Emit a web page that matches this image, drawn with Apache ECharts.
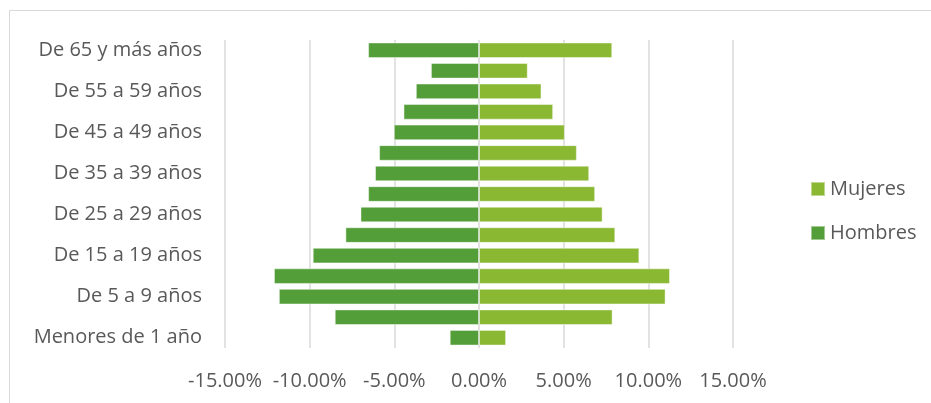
<!DOCTYPE html>
<html>
<head>
<meta charset="utf-8">
<script src="https://cdn.jsdelivr.net/npm/echarts@6/dist/echarts.min.js"></script>
<style>
  html, body { margin: 0; padding: 0; background: #fff; }
  #chart { width: 931px; height: 403px; }
</style>
</head>
<body>
<div id="chart"></div>
<script>
// grupos de edad, de abajo hacia arriba
const categories = [
  'Menores de 1 año', 'De 1 a 4 años', 'De 5 a 9 años', 'De 10 a 14 años',
  'De 15 a 19 años', 'De 20 a 24 años', 'De 25 a 29 años', 'De 30 a 34 años',
  'De 35 a 39 años', 'De 40 a 44 años', 'De 45 a 49 años', 'De 50 a 54 años',
  'De 55 a 59 años', 'De 60 a 64 años', 'De 65 y más años'
];
// porcentajes (hombres en negativo)
const hombres = [-1.73, -8.52, -11.82, -12.11, -9.82, -7.89, -7.0, -6.55,
  -6.14, -5.9, -5.03, -4.46, -3.73, -2.84, -6.55];
const mujeres = [1.6, 7.89, 11.02, 11.28, 9.47, 8.05, 7.3, 6.86,
  6.51, 5.78, 5.07, 4.38, 3.69, 2.88, 7.87];
const xTicks = { min: -15, max: 15, step: 5 };

const chartColor = { hombres: '#549E39', mujeres: '#8AB833' };
const textColor = '#595959';
const fontFamily = '"Open Sans", "Noto Sans", sans-serif';

const chart = echarts.init(document.getElementById('chart'), null, { renderer: 'canvas' });

chart.setOption({
  animation: false,
  textStyle: { fontFamily: fontFamily },
  graphic: [{
    type: 'rect',
    shape: { x: 9.5, y: 10.5, width: 940, height: 400 },
    style: { fill: 'none', stroke: '#d9d9d9', lineWidth: 1 },
    silent: true
  }],
  legend: {
    orient: 'vertical',
    left: 810,
    top: 179,
    padding: 0,
    itemWidth: 14,
    itemHeight: 14,
    itemGap: 24,
    icon: 'rect',
    data: ['Mujeres', 'Hombres'],
    textStyle: { color: textColor, fontSize: 20, fontFamily: fontFamily }
  },
  grid: { left: 225, right: 198, top: 40, bottom: 55, containLabel: false },
  xAxis: {
    type: 'value',
    min: xTicks.min,
    max: xTicks.max,
    interval: xTicks.step,
    axisLine: { show: false },
    axisTick: { show: false },
    splitLine: { show: true, lineStyle: { color: '#d9d9d9', width: 1.5 } },
    axisLabel: {
      color: textColor,
      fontSize: 20,
      margin: 23,
      formatter: (v) => v.toFixed(2) + '%'
    }
  },
  yAxis: {
    type: 'category',
    data: categories,
    axisLine: { show: false },
    axisTick: { show: false },
    axisLabel: { color: textColor, fontSize: 20, margin: 23, interval: 1, padding: [3, 0, 0, 0] }
  },
  series: [
    {
      name: 'Hombres',
      type: 'bar',
      data: hombres,
      barWidth: '76%',
      barGap: '-100%',
      itemStyle: { color: chartColor.hombres, borderColor: 'rgba(255,255,255,0.45)', borderWidth: 1 }
    },
    {
      name: 'Mujeres',
      type: 'bar',
      data: mujeres,
      barWidth: '76%',
      barGap: '-100%',
      itemStyle: { color: chartColor.mujeres, borderColor: 'rgba(255,255,255,0.45)', borderWidth: 1 }
    }
  ]
});
</script>
</body>
</html>
